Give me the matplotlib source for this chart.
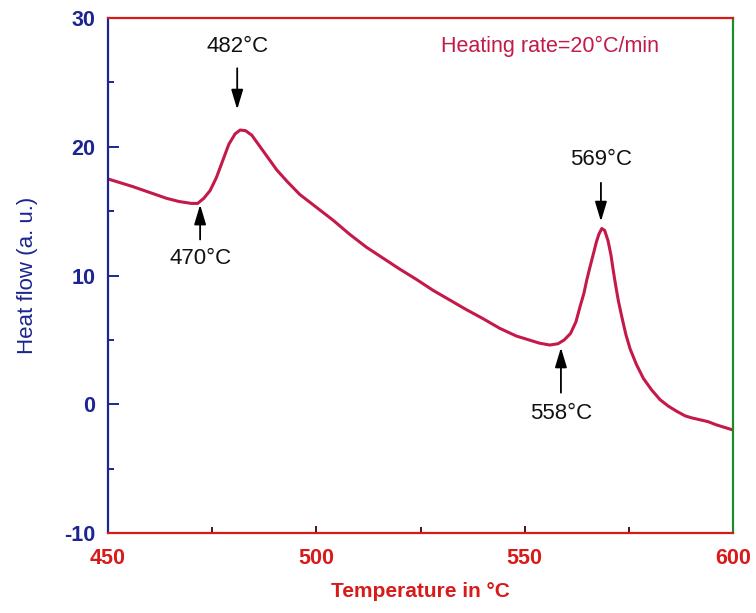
import matplotlib.pyplot as plt
from matplotlib.ticker import MultipleLocator

plt.rcParams["font.family"] = ["Liberation Sans", "DejaVu Sans"]
plt.rcParams["axes.unicode_minus"] = False

# DSC trace, temperature in degC vs heat flow (a.u.)
temperature = [
    450, 453, 456, 460, 464, 467, 470, 471.5, 473, 474.5, 476, 477.5, 479,
    480.5, 481.7, 483, 484.5, 486.5, 488.5, 490.5, 493, 496, 500, 504, 508,
    512, 516, 520, 524, 528, 532, 536, 540, 544, 548, 551, 553.5, 556, 558,
    559.5, 561, 562.3, 563.3, 564.2, 564.9, 565.7, 566.5, 567.2, 567.8, 568.5,
    569.2, 570, 570.7, 571.3, 571.8, 572.5, 573.3, 574.3, 575.3, 576.8, 578.5,
    580.5, 582.5, 584.5, 586.5, 588.5, 590, 592, 594, 596, 598, 600,
]
heat_flow = [
    17.5, 17.2, 16.9, 16.45, 16.0, 15.75, 15.6, 15.6, 16.0, 16.6, 17.6, 18.9,
    20.2, 21.0, 21.3, 21.25, 20.9, 20.0, 19.1, 18.2, 17.3, 16.3, 15.3, 14.3,
    13.2, 12.2, 11.35, 10.5, 9.7, 8.85, 8.1, 7.35, 6.65, 5.9, 5.3, 5.0, 4.75,
    4.6, 4.7, 5.0, 5.5, 6.4, 7.6, 8.6, 9.65, 10.7, 11.7, 12.6, 13.2, 13.65,
    13.5, 12.7, 11.6, 10.3, 9.3, 8.0, 6.8, 5.4, 4.3, 3.1, 2.0, 1.1, 0.35,
    -0.15, -0.55, -0.9, -1.05, -1.2, -1.35, -1.6, -1.8, -2.0,
]

# labelled events: (text, arrow tip x, tip y, tail y, label y)
events = [
    ("482°C", 481.0, 22.9, 26.1, 27.8),
    ("470°C", 472.1, 15.5, 12.8, 11.3),
    ("569°C", 568.3, 14.2, 17.2, 19.0),
    ("558°C", 558.7, 4.4, 0.9, -0.7),
]

curve_col = "#c41a4a"
blue = "#1c2590"
red = "#d81a1a"
green = "#1f8a2c"

fig = plt.figure(figsize=(7.56, 6.13), dpi=100)
ax = fig.add_axes([0.1429, 0.1305, 0.8267, 0.8401])

ax.plot(temperature, heat_flow, color=curve_col, lw=2.2)

for label, tx, tip, tail, ly in events:
    ax.annotate("", xy=(tx, tip), xytext=(tx, tail),
                arrowprops=dict(arrowstyle="-|>,head_length=1.0,head_width=0.3",
                                color="black", lw=1.3, mutation_scale=12,
                                shrinkA=0, shrinkB=0))
    ax.text(tx, ly, label, ha="center", va="center", fontsize=16,
            color="#111111")

ax.text(530, 27.8, "Heating rate=20°C/min", ha="left", va="center",
        fontsize=15.5, color=curve_col)

ax.set_xlim(450, 600)
ax.set_ylim(-10, 30)
ax.xaxis.set_major_locator(MultipleLocator(50))
ax.xaxis.set_minor_locator(MultipleLocator(25))
ax.yaxis.set_major_locator(MultipleLocator(10))
ax.yaxis.set_minor_locator(MultipleLocator(5))

ax.spines["left"].set_color(blue)
ax.spines["top"].set_color(red)
ax.spines["bottom"].set_color(red)
ax.spines["right"].set_color(green)
for s in ax.spines.values():
    s.set_linewidth(1.6)

ax.tick_params(axis="y", which="both", direction="in", colors=blue,
               labelsize=15.5, pad=9, width=1.4)
ax.tick_params(axis="y", which="major", length=8)
ax.tick_params(axis="y", which="minor", length=4)
ax.tick_params(axis="x", which="both", direction="in", color="#5a1010",
               labelcolor=red, labelsize=15.5, pad=11, width=1.4)
ax.tick_params(axis="x", which="major", length=5)
ax.tick_params(axis="x", which="minor", length=4)
for t in ax.get_xticklabels() + ax.get_yticklabels():
    t.set_fontweight("bold")

ax.set_xlabel("Temperature in °C", fontsize=15, color=red,
              fontweight="bold", labelpad=9)
ax.set_ylabel("Heat flow (a. u.)", fontsize=16, color=blue, labelpad=19)

fig.savefig("out.png", dpi=100)
